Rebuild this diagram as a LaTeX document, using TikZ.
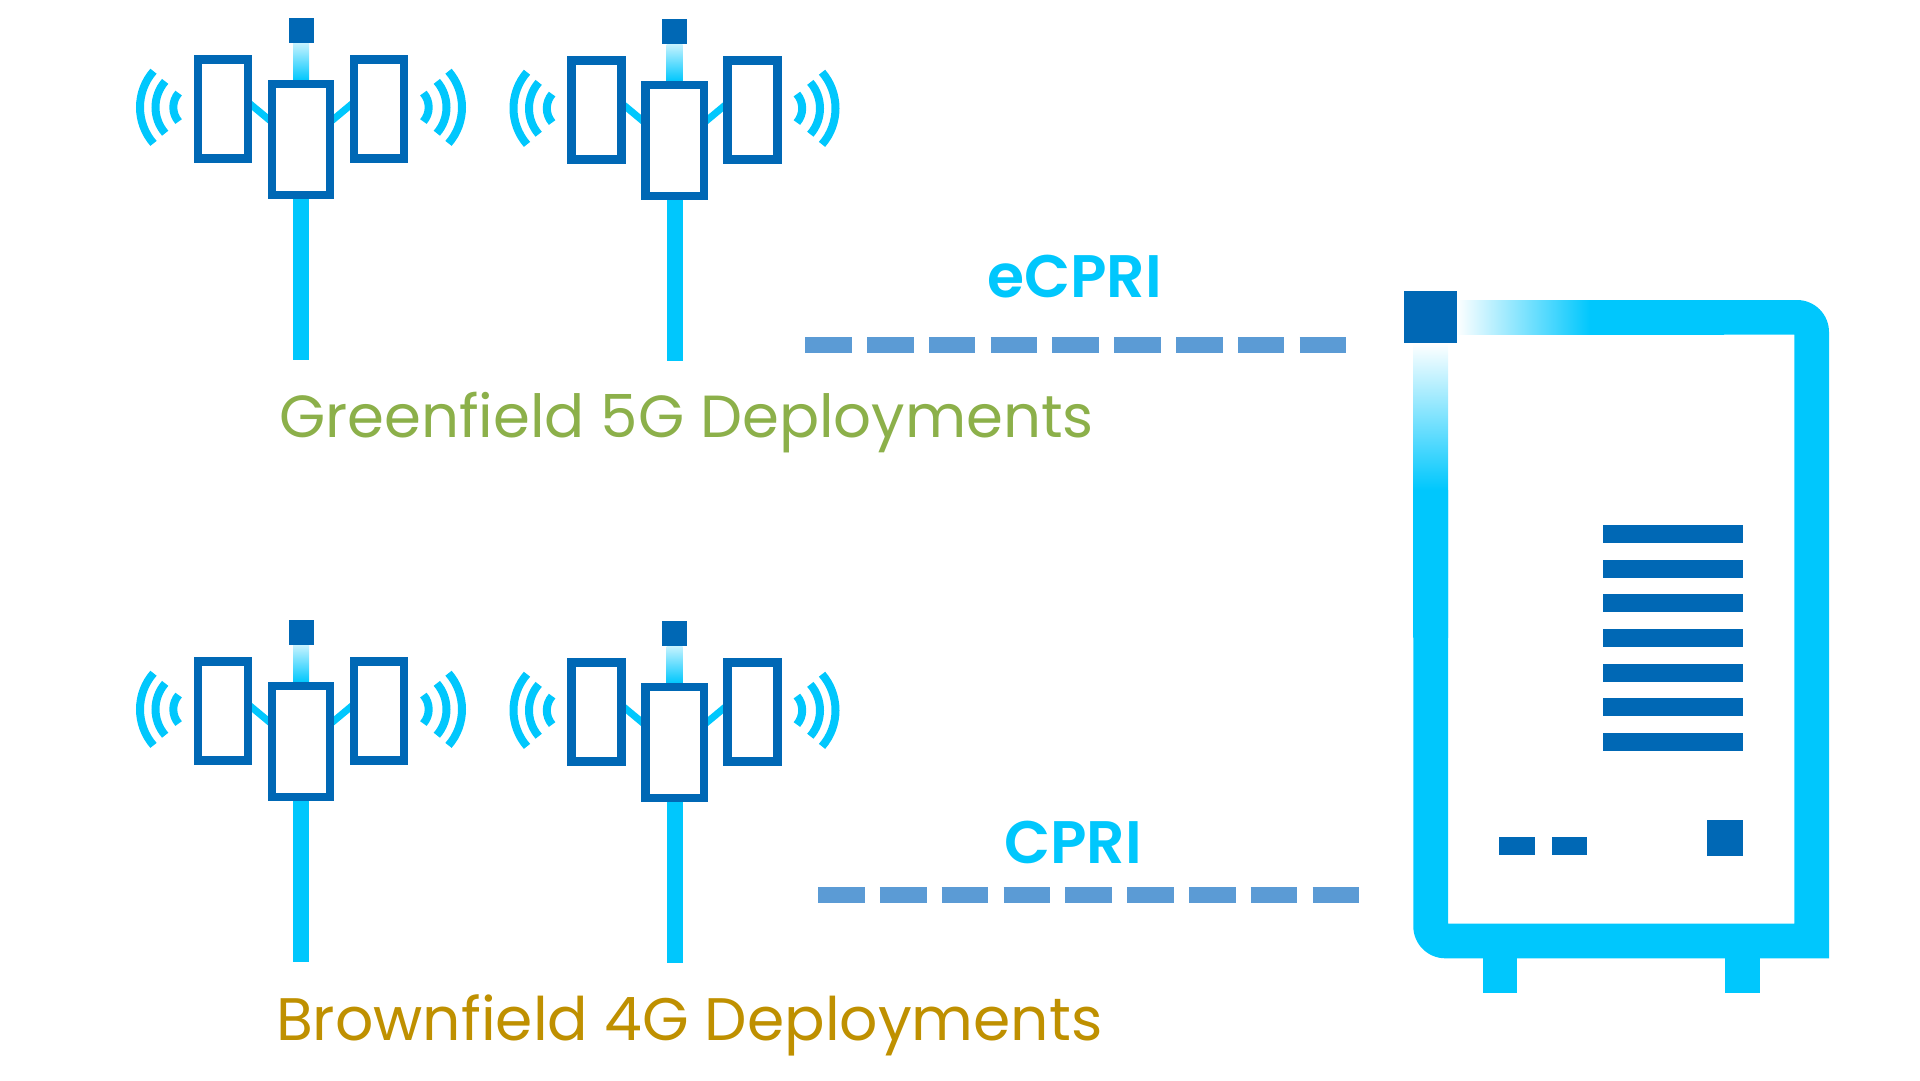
\documentclass[tikz,border=0pt]{standalone}
\usepackage{fontspec}
\setmainfont{Poppins}
\newfontfamily\protofont{Poppins SemiBold}
\usetikzlibrary{backgrounds}
\definecolor{sky}{HTML}{00C7FD}
\definecolor{navy}{HTML}{0068B5}
\definecolor{linkblue}{HTML}{5B9BD5}
\definecolor{green5g}{HTML}{8CB04A}
\definecolor{gold4g}{HTML}{BF9000}
\begin{document}
\begin{tikzpicture}[
      x=1pt, y=-1pt,
      panel/.style={draw=navy, fill=white, line width=8.4pt, inner sep=0pt, outer sep=0pt},
      block/.style={fill=navy, inner sep=0pt, outer sep=0pt},
      pole/.style={draw=sky, line width=16pt},
      arm/.style={draw=sky, line width=7pt},
      wave/.style={draw=sky, line width=8pt},
      link/.style={draw=linkblue, line width=16pt, dash pattern=on 46.6pt off 15.2pt},
      caption/.style={font=\fontsize{60}{72}\selectfont, anchor=base west, inner sep=0pt},
      proto/.style={font=\fontsize{60}{72}\protofont, text=sky, anchor=base west, inner sep=0pt}
    ]
    \useasboundingbox (0,0) rectangle (1920,1080);

    % towers
    \foreach \tx/\ty/\n in {301/0/a, 674.5/1/b, 301/602/c, 674.5/603/d} {
      \begin{scope}[shift={(\tx,\ty)}]
        \node[block] (cap\n) at (0,30.5) [minimum width=25pt, minimum height=25pt] {};
        \node[panel] (mid\n) at (0,139.65) [minimum width=58.4pt, minimum height=111pt] {};
        \node[panel] (lft\n) at (-78,109) [minimum width=49.8pt, minimum height=99pt] {};
        \node[panel] (rgt\n) at (78,109) [minimum width=49.8pt, minimum height=99pt] {};
        \coordinate (foot\n) at (0,360);
        \begin{scope}[on background layer]
          \shade[top color=sky!22, bottom color=sky] (-8,43) rectangle (8,80);
          \draw[pole] (mid\n.south) -- (foot\n);
          \draw[arm] ([yshift=6.9pt]lft\n.east) -- ([yshift=17.65pt]mid\n.west);
          \draw[arm] ([yshift=6.9pt]rgt\n.west) -- ([yshift=17.65pt]mid\n.east);
        \end{scope}
        \foreach \r in {21.7,39.5,55} {
          \draw[wave] (-106,107.3) ++(139:\r) arc[start angle=139, end angle=221, radius=\r];
          \draw[wave] (106,107.3) ++(-41:\r) arc[start angle=-41, end angle=41, radius=\r];
        }
      \end{scope}
    }

    % labels
    \node[caption, text=green5g, font=\fontsize{59.4}{72}\selectfont] (green) at (279,437) {Greenfield 5G Deployments};
    \node[caption, text=gold4g] (brown) at (276,1040.7) {Brownfield 4G Deployments};
    \node[proto] (ecpri) at (987,297.3) {eCPRI};
    \node[proto] (cpri) at (1004,863) {CPRI};

    % links
    \coordinate (ecpriA) at (805.2,345);
    \coordinate (ecpriB) at (1346.8,345);
    \coordinate (cpriA) at (818.1,895);
    \coordinate (cpriB) at (1359.7,895);
    \draw[link] (ecpriA) -- (ecpriB);
    \draw[link] (cpriA) -- (cpriB);

    % radio unit
    \fill[sky] (1590,300) -- (1797,300) arc[start angle=-90, end angle=0, radius=32] -- (1829,958.3)
      -- (1445.3,958.3) arc[start angle=90, end angle=180, radius=32] -- (1413.3,490)
      -- (1448,490) -- (1448,923.7) -- (1794.3,923.7) -- (1794.3,334.7) -- (1590,334.7) -- cycle;
    \shade[left color=white, right color=sky, middle color=sky] (1456,300) rectangle (1724,334.7);
    \shade[top color=white, bottom color=sky, middle color=sky] (1413.3,343) rectangle (1448,637);
    \fill[sky] (1482.7,950) rectangle (1517.3,992.7);
    \fill[sky] (1725,950) rectangle (1759.7,992.7);
    \node[block, minimum width=52.4pt, minimum height=52pt] (port) at (1430.5,317.3) {};
    \foreach \i in {0,...,6} {
      \node[block, minimum width=139.4pt, minimum height=18pt] (bar\i) at (1673,534+34.67*\i) {};
    }
    \node[block, minimum width=35.7pt, minimum height=18.3pt] (ledA) at (1517.2,845.8) {};
    \node[block, minimum width=35.2pt, minimum height=18.3pt] (ledB) at (1569.1,845.8) {};
    \node[block, minimum width=35.4pt, minimum height=36.3pt] (plug) at (1725,837.9) {};
\end{tikzpicture}
\end{document}
